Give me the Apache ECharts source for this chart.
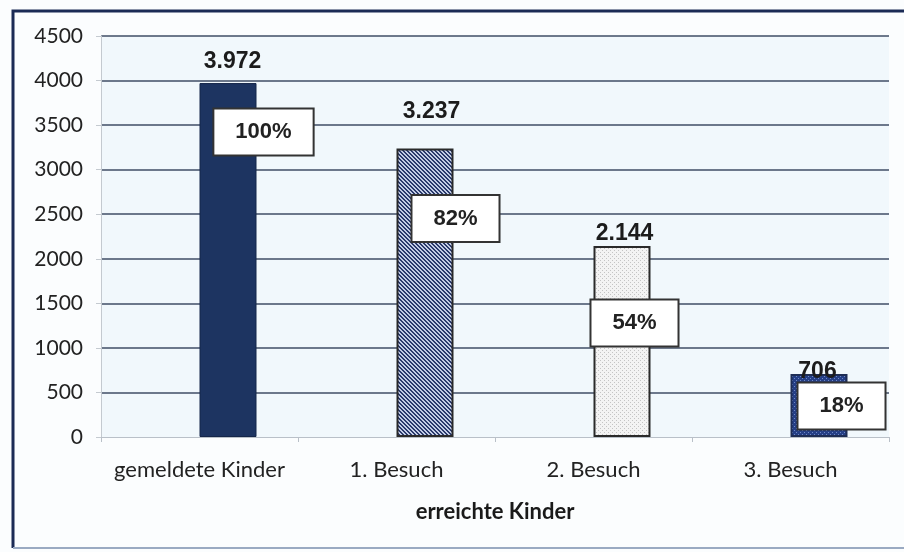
<!DOCTYPE html>
<html>
<head>
<meta charset="utf-8">
<script src="https://cdn.jsdelivr.net/npm/echarts@6/dist/echarts.min.js"></script>
<style>
html,body{margin:0;padding:0;background:#fbfdfe;}
#main{width:904px;height:552px;}
</style>
</head>
<body>
<div id="main"></div>
<script>
// ---- data ----
var categories = ['gemeldete Kinder', '1. Besuch', '2. Besuch', '3. Besuch'];
var values = [3972, 3237, 2144, 706];
var percentLabels = ['100%', '82%', '54%', '18%'];
var yTicks = [0, 500, 1000, 1500, 2000, 2500, 3000, 3500, 4000, 4500];
var xAxisName = 'erreichte Kinder';

// ---- styles ----
function makePattern(size, bg, fg, test) {
  var c = document.createElement('canvas');
  c.width = size; c.height = size;
  var ctx = c.getContext('2d');
  ctx.fillStyle = bg; ctx.fillRect(0, 0, size, size);
  ctx.fillStyle = fg;
  for (var x = 0; x < size; x++) for (var y = 0; y < size; y++) if (test(x, y)) ctx.fillRect(x, y, 1, 1);
  return { image: c, repeat: 'repeat' };
}
var hatch = makePattern(4, '#c3cde6', '#2a3a6c', function (x, y) { var d = ((x - y) % 4 + 4) % 4; return d === 0 || d === 1; });
var lightDots = makePattern(4, '#f3f3f3', '#c4c4c4', function (x, y) { return (x === 0 && y === 0) || (x === 2 && y === 2); });
var navyDots = makePattern(4, '#253f86', '#6f88c6', function (x, y) { return (x === 0 && y === 0) || (x === 2 && y === 2); });

var barStyles = [
  { color: '#1d3461', borderColor: '#15264a', borderWidth: 1 },
  { color: hatch, borderColor: '#2a2a2a', borderWidth: 2 },
  { color: lightDots, borderColor: '#2a2a2a', borderWidth: 2 },
  { color: navyDots, borderColor: '#1e2d55', borderWidth: 2 }
];
// label anchor offsets relative to each bar's top-left corner (styling only)
var valueLabelPos = [[33, -21], [35, -37], [31, -12], [27, -2]];
var pctLabelPos = [[64 + 57, 49], [59 + 57, 70], [41 + 57, 77], [51 + 57, 32]];

function fmtDE(v) { return String(v).replace(/\B(?=(\d{3})+(?!\d))/g, '.'); }

var BAR_W = 57;
var mainData = values.map(function (v, i) {
  return {
    value: v,
    itemStyle: barStyles[i],
    label: { position: valueLabelPos[i] }
  };
});
var pctData = values.map(function (v, i) {
  return { value: v, label: { position: pctLabelPos[i] } };
});

var gridColors = yTicks.map(function (t, i) { return i === 0 ? 'rgba(0,0,0,0)' : '#3f4e66'; });

var chart = echarts.init(document.getElementById('main'), null, { renderer: 'canvas' });
chart.setOption({
  backgroundColor: '#fbfdfe',
  animation: false,
  textStyle: { fontFamily: 'Lato' },
  graphic: [
    { type: 'polyline', shape: { points: [[13, 548], [13, 11], [904, 11]] }, style: { stroke: '#1b2b55', lineWidth: 3, fill: null }, z: 100 },
    { type: 'line', shape: { x1: 13, y1: 548, x2: 904, y2: 548 }, style: { stroke: '#9aaac2', lineWidth: 2 }, z: 100 }
  ],
  grid: { left: 101, right: 15, top: 36, bottom: 115, show: true, backgroundColor: '#f1f8fc', borderWidth: 0 },
  xAxis: {
    type: 'category',
    data: categories,
    axisLine: { lineStyle: { color: '#b9c0c8', width: 1 } },
    axisTick: { show: true, interval: 0, length: 5, lineStyle: { color: '#b9c0c8' } },
    axisLabel: { interval: 0, color: '#222', fontSize: 22, fontFamily: 'Lato', margin: 22 },
    name: xAxisName,
    nameLocation: 'middle',
    nameGap: 64,
    nameTextStyle: { color: '#1a1a1a', fontSize: 22, fontWeight: 'bold', fontFamily: 'Lato' }
  },
  yAxis: {
    type: 'value',
    min: 0, max: 4500, interval: 500,
    axisLine: { show: true, lineStyle: { color: '#c4cad0' } },
    axisTick: { show: true, length: 5, lineStyle: { color: '#c4cad0' } },
    axisLabel: { color: '#222', fontSize: 21, fontFamily: 'Lato', margin: 18, formatter: function (v) { return String(v); } },
    splitLine: { show: true, lineStyle: { color: gridColors, width: 1.6 } }
  },
  series: [
    {
      name: 'pct',
      type: 'bar',
      barWidth: BAR_W,
      barGap: 0,
      z: 5,
      data: pctData,
      itemStyle: { color: 'rgba(0,0,0,0)' },
      label: {
        show: true,
        align: 'center',
        verticalAlign: 'middle',
        formatter: function (p) { return percentLabels[p.dataIndex]; },
        fontFamily: 'Liberation Sans, Arial',
        fontWeight: 'bold',
        fontSize: 22,
        color: '#222',
        backgroundColor: '#ffffff',
        borderColor: '#333333',
        borderWidth: 2,
        padding: [12, 21, 11, 21]
      }
    },
    {
      name: 'Kinder',
      type: 'bar',
      barWidth: BAR_W,
      barGap: 0,
      z: 3,
      data: mainData,
      label: {
        show: true,
        align: 'center',
        verticalAlign: 'middle',
        formatter: function (p) { return fmtDE(p.value); },
        fontFamily: 'Liberation Sans, Arial',
        fontWeight: 'bold',
        fontSize: 23,
        color: '#1c1c1c'
      }
    }
  ]
});
</script>
</body>
</html>
